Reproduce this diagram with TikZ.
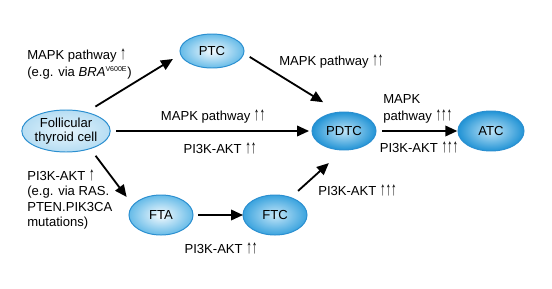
\documentclass[tikz,border=0pt]{standalone}
\usepackage{fontspec}
\usepackage{graphicx}
\setmainfont{Liberation Sans}
\usetikzlibrary{arrows.meta}
\usetikzlibrary{shapes.geometric}

\definecolor{rimblue}{HTML}{2B8FD0}
\definecolor{palein}{HTML}{E6F5FC}
\definecolor{paleout}{HTML}{B6DDF3}
\definecolor{lightin}{HTML}{F6FBFE}
\definecolor{lightout}{HTML}{66BBE8}
\definecolor{midin}{HTML}{C4E6F8}
\definecolor{midout}{HTML}{3AA3DE}
\definecolor{deepin}{HTML}{C0E5F8}
\definecolor{deepout}{HTML}{2193D5}

% tall narrow up arrow
\newcommand{\uarr}{\scalebox{0.85}[1.45]{↑}}

\begin{document}
\begin{tikzpicture}[x=0.025cm,y=-0.025cm,
    every node/.style={font=\fontsize{9.3}{12}\selectfont,inner sep=0pt},
    cellnode/.style={ellipse,draw=rimblue,line width=0.7pt,shading=radial,
        outer sep=0pt,minimum width=1.6cm,minimum height=0.95cm},
    pale/.style={cellnode,inner color=palein,outer color=paleout},
    light/.style={cellnode,inner color=lightin,outer color=lightout},
    mid/.style={cellnode,inner color=midin,outer color=midout},
    deep/.style={cellnode,inner color=deepin,outer color=deepout},
    arr/.style={line width=1.3pt,-{Triangle[length=8.5pt,width=7.5pt]}}]
        \useasboundingbox (0,0) rectangle (552,289);
        % cell types
        \node[pale,minimum width=2cm,minimum height=1.05cm,align=center,
            font=\fontsize{9.3}{10}\selectfont] (cell) at (66,131) {Follicular\\thyroid cell};
        \node[light,minimum height=0.85cm] (ptc) at (212,51) {PTC};
        \node[deep] (pdtc) at (344,131) {PDTC};
        \node[deep,minimum width=1.65cm,minimum height=1cm] (atc) at (491,131) {ATC};
        \node[light,minimum height=1cm] (fta) at (161,215) {FTA};
        \node[mid,minimum height=1cm] (ftc) at (275,215) {FTC};
        % transitions
        \draw[arr,shorten <=7.8pt,shorten >=6.4pt] (cell.43) -- (ptc.186);
        \draw[arr,shorten <=5pt,shorten >=13.5pt] (ptc.356) -- (pdtc.104);
        \draw[arr,shorten <=4.3pt,shorten >=2.1pt] (cell.east) -- (pdtc.west);
        \draw[arr,shorten <=4.3pt,shorten >=0.5pt] (pdtc.east) -- (atc.west);
        \draw[arr,shorten <=6.4pt,shorten >=7.5pt] (cell.324) -- (fta.161);
        \draw[arr,shorten <=3.6pt] (fta.east) -- (ftc.west);
        \draw[arr,shorten <=7.1pt,shorten >=13.9pt] (ftc.48) -- (pdtc.268);
        % pathway labels
        \node[anchor=west,align=left,font=\fontsize{9.3}{12.6}\selectfont] (mapkone) at (27,64)
            {MAPK pathway \uarr\\(e.g. via \textit{BRA}\textsuperscript{\fontsize{5}{5}\selectfont V600E})};
        \node[anchor=west] (mapkptc) at (279,62) {MAPK pathway \uarr\uarr};
        \node (mapktwo) at (213,117) {MAPK pathway \uarr\uarr};
        \node (pithree) at (220,148) {PI3K-AKT \uarr\uarr};
        \node[anchor=west,align=left] (mapkatc) at (383,108.5) {MAPK\\pathway \uarr\uarr\uarr};
        \node (piatc) at (419,147) {PI3K-AKT \uarr\uarr\uarr};
        \node[anchor=west,align=left,font=\fontsize{9.3}{10.8}\selectfont] (pione) at (27,199.5)
            {PI3K-AKT \uarr\\(e.g. via RAS.\\PTEN.PIK3CA\\mutations)};
        \node (pifta) at (221,248) {PI3K-AKT \uarr\uarr};
        \node[anchor=west] (piftc) at (318,190) {PI3K-AKT \uarr\uarr\uarr};
\end{tikzpicture}
\end{document}
